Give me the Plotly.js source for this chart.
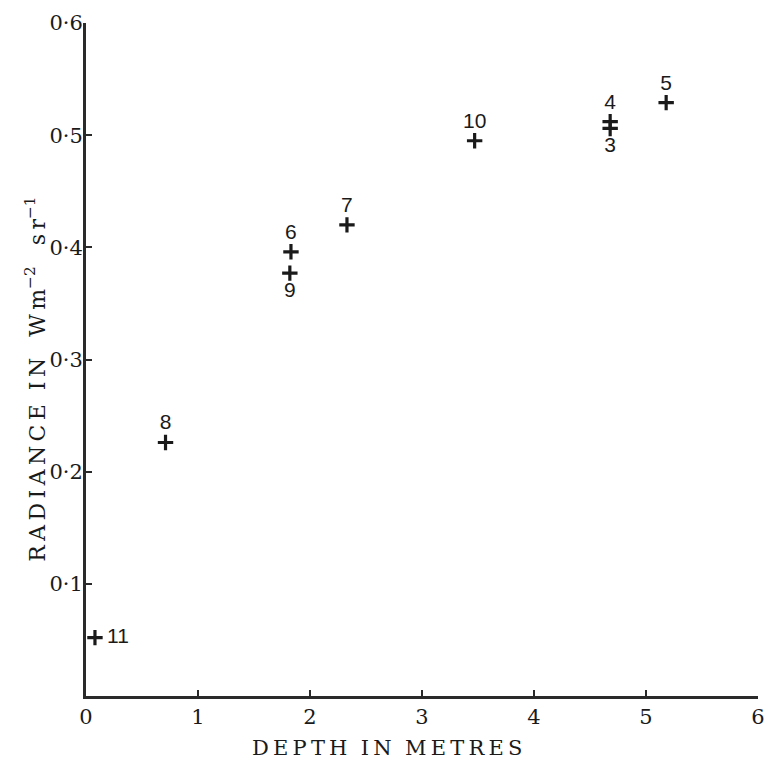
<!DOCTYPE html>
<html><head><meta charset="utf-8">
<script src="https://cdn.plot.ly/plotly-3.0.1.min.js"></script>
<style>body{margin:0;background:#fff}</style>
</head><body>
<div id="chart" style="width:768px;height:766px"></div>
<script>
const sampleLabels = ["11","8","6","9","7","10","4","3","5"];
const depth = [0.08, 0.71, 1.83, 1.82, 2.33, 3.47, 4.68, 4.68, 5.18];
const radiance = [0.052, 0.226, 0.396, 0.377, 0.420, 0.495, 0.512, 0.506, 0.529];
const labelPos = ["middle right","top center","top center","bottom center","top center","top center","top center","bottom center","top center"];
const xTickVals = [0,1,2,3,4,5,6];
const xTickText = ["0","1","2","3","4","5","6"];
const yTickVals = [0.1,0.2,0.3,0.4,0.5,0.6];
const yTickText = ["0·1","0·2","0·3","0·4","0·5","0·6"];
const xTitle = "DEPTH IN METRES";

const trace = {
  x: depth, y: radiance, text: sampleLabels.map((s, i) => labelPos[i] === "middle right" ? "\u2009" + s : s),
  mode: "markers+text", type: "scatter",
  textposition: labelPos,
  textfont: {family: "Liberation Sans, Arial, sans-serif", size: 21, color: "#1a1a1a"},
  marker: {symbol: "cross-thin", size: 11, line: {width: 3.2, color: "#1a1a1a"}, color: "#1a1a1a"},
  cliponaxis: false, hoverinfo: "none"
};
const font = "DejaVu Serif, Liberation Serif, serif";
const ts = "\u2009";
function spaced(s){ return s.split(" ").map(w => w.split("").join(ts)).join("&nbsp;&nbsp;"); }
const yTitle = spaced("RADIANCE IN") + "&nbsp;&nbsp;&nbsp;W" + ts + "m<sup>−2</sup>&nbsp;&nbsp;&nbsp;s" + ts + "r<sup>−1</sup>";
const layout = {
  width: 768, height: 766,
  margin: {l: 86, r: 10, t: 23, b: 70},
  paper_bgcolor: "#fff", plot_bgcolor: "#fff",
  showlegend: false,
  xaxis: {
    range: [0, 6], tickvals: xTickVals, ticktext: xTickText,
    showgrid: false, zeroline: false, showline: true, linewidth: 3, linecolor: "#2a2a2a",
    ticks: "inside", ticklen: 6, tickwidth: 2, tickcolor: "#2a2a2a",
    tickfont: {family: font, size: 21, color: "#1a1a1a"}
  },
  yaxis: {
    range: [0, 0.6], tickvals: yTickVals, ticktext: yTickText,
    showgrid: false, zeroline: false, showline: true, linewidth: 3, linecolor: "#2a2a2a",
    ticks: "inside", ticklen: 6, tickwidth: 2, tickcolor: "#2a2a2a",
    ticklabelstandoff: -4,
    tickfont: {family: font, size: 21, color: "#1a1a1a"}
  },
  annotations: [{
    text: spaced(xTitle), xref: "paper", yref: "paper", x: 0.448, y: 0, yshift: -52,
    xanchor: "center", yanchor: "middle", showarrow: false,
    font: {family: font, size: 21, color: "#1a1a1a"}
  }, {
    text: yTitle, xref: "paper", yref: "paper", x: 0, y: 0.47, xshift: -51,
    xanchor: "center", yanchor: "middle", showarrow: false, textangle: -90,
    font: {family: font, size: 22, color: "#1a1a1a"}
  }]
};
Plotly.newPlot("chart", [trace], layout, {staticPlot: true});
</script>
</body></html>
